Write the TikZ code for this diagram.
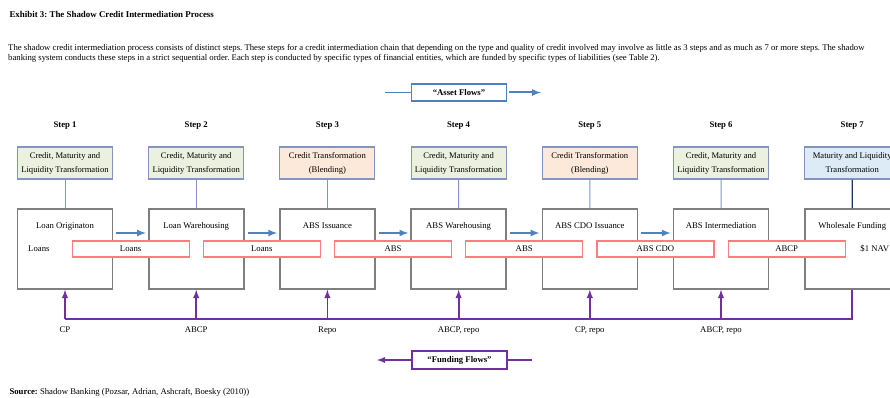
\documentclass[tikz,border=0pt]{standalone}
\usepackage{fontspec}
\setmainfont{Liberation Serif}
\usetikzlibrary{arrows,calc,positioning}
\definecolor{AssetClr}{HTML}{4F81BD}
\definecolor{FundClr}{HTML}{7030A0}
\definecolor{BoxClr}{HTML}{7F7F7F}
\definecolor{TrfClr}{HTML}{8396C2}
\definecolor{NavyClr}{HTML}{1F3864}
\definecolor{FlowClr}{HTML}{FF7C80}
\definecolor{GreenFill}{HTML}{EBF1DE}
\definecolor{PeachFill}{HTML}{FDE9D9}
\definecolor{BlueFill}{HTML}{DCEBF5}
\frenchspacing

\begin{document}
\begin{tikzpicture}[x=1pt,y=-1pt,font=\fontsize{8.7}{10}\selectfont,
  stepbox/.style={draw=BoxClr,line width=1.6pt,minimum width=95pt,minimum height=80pt,inner sep=0pt},
  steptext/.style={text height=1.6ex,text depth=.4ex},
  trfbox/.style={draw=TrfClr,line width=1.1pt,minimum width=95pt,minimum height=32pt,inner sep=1pt,align=center,font=\fontsize{8.6}{14}\selectfont},
  greenbox/.style={trfbox,fill=GreenFill},
  peachbox/.style={trfbox,fill=PeachFill},
  bluebox/.style={trfbox,fill=BlueFill},
  flowbox/.style={draw=FlowClr,fill=white,line width=1.2pt,minimum width=117pt,minimum height=16pt,inner sep=0pt,steptext},
  steplabel/.style={font=\fontsize{8.7}{10}\selectfont\bfseries},
  assetarrow/.style={draw=AssetClr,line width=2pt,-latex},
  fundarrow/.style={draw=FundClr,line width=1.8pt,-latex},
  fundline/.style={draw=FundClr,line width=1.8pt}]
\useasboundingbox (0,0) rectangle (890,398);
\clip (0,0) rectangle (890,398);

\node[anchor=west,font=\fontsize{8.9}{10}\selectfont\bfseries] (title) at (6,14) {Exhibit 3: The Shadow Credit Intermediation Process};
\node[anchor=north west,align=left,inner sep=0pt] (intro) at (8,44) {The shadow credit intermediation process consists of distinct steps. These steps for a credit intermediation chain that depending on the type and quality of credit involved may involve as little as 3 steps and as much as 7 or more steps. The shadow\\banking system conducts these steps in a strict sequential order. Each step is conducted by specific types of financial entities, which are funded by specific types of liabilities (see Table 2).};

\node[draw=AssetClr,line width=1.2pt,minimum width=95pt,minimum height=17pt,inner sep=0pt,font=\fontsize{8.7}{10}\selectfont\bfseries] (assets) at (459,92.5) {``Asset Flows''};
\coordinate (assetsL) at (385,92.5);
\coordinate (assetsR) at (541,92.5);
\draw[AssetClr,line width=1pt] (assetsL) -- (assets.west);
\draw[assetarrow] ([xshift=2pt]assets.east) -- (assetsR);

\foreach \i/\ttl in {1/Loan Originaton,2/Loan Warehousing,3/ABS Issuance,4/ABS Warehousing,5/ABS CDO Issuance,6/ABS Intermediation,7/Wholesale Funding}{
  \pgfmathsetmacro{\xx}{65+131.2*(\i-1)}
  \node[steplabel] (lbl\i) at (\xx,126) {Step \i};
  \node[stepbox] (step\i) at (\xx,249) {};
  \node[steptext] (name\i) at ([yshift=-18pt]step\i.north) {\ttl};
  \coordinate (base\i) at (\xx,319);
}

\node[greenbox] (trf1) at (65,163) {Credit, Maturity and\\Liquidity Transformation};
\node[greenbox] (trf2) at (196.2,163) {Credit, Maturity and\\Liquidity Transformation};
\node[peachbox] (trf3) at (327.4,163) {Credit Transformation\\(Blending)};
\node[greenbox] (trf4) at (458.6,163) {Credit, Maturity and\\Liquidity Transformation};
\node[peachbox] (trf5) at (589.8,163) {Credit Transformation\\(Blending)};
\node[greenbox] (trf6) at (721,163) {Credit, Maturity and\\Liquidity Transformation};
\node[bluebox] (trf7) at (852.2,163) {Maturity and Liquidity\\Transformation};

\foreach \i in {1,...,6}
  \draw[TrfClr,line width=1pt] (trf\i) -- (step\i);
\draw[NavyClr,line width=1.4pt] (trf7) -- (step7);

\foreach \i/\j in {1/2,2/3,3/4,4/5,5/6}
  \draw[assetarrow] ([xshift=3pt,yshift=16pt]step\i.east) -- ([xshift=-2pt,yshift=16pt]step\j.west);

\foreach \i/\j/\txt in {1/2/Loans,2/3/Loans,3/4/ABS,4/5/ABS,5/6/ABS CDO,6/7/ABCP}
  \node[flowbox] (flow\i) at ($(step\i)!0.5!(step\j)$) {\txt};

\node[anchor=west,steptext] (loans) at ([xshift=8pt]step1.west) {Loans};
\node[anchor=west,steptext] (nav) at ([xshift=53pt]step7.west |- flow6) {\$1 NAV};

\draw[fundline] (step7.south) -- (base7) -- (base1);
\foreach \i/\txt in {1/CP,2/ABCP,3/Repo,4/{ABCP, repo},5/{CP, repo},6/{ABCP, repo}}{
  \draw[fundarrow] (base\i) -- (step\i.south);
  \node[steptext] (liab\i) at ([yshift=-11pt]base\i) {\txt};
}

\node[draw=FundClr,line width=1.5pt,minimum width=95pt,minimum height=18pt,inner sep=0pt,font=\fontsize{8.7}{10}\selectfont\bfseries] (funding) at (459.5,360) {``Funding Flows''};
\coordinate (fundingL) at (377,360);
\coordinate (fundingR) at (532,360);
\draw[fundarrow] (funding.west) -- (fundingL);
\draw[fundline] (funding.east) -- (fundingR);

\node[anchor=west] (source) at (6,392) {\textbf{Source:} Shadow Banking (Pozsar, Adrian, Ashcraft, Boesky (2010))};
\end{tikzpicture}
\end{document}
